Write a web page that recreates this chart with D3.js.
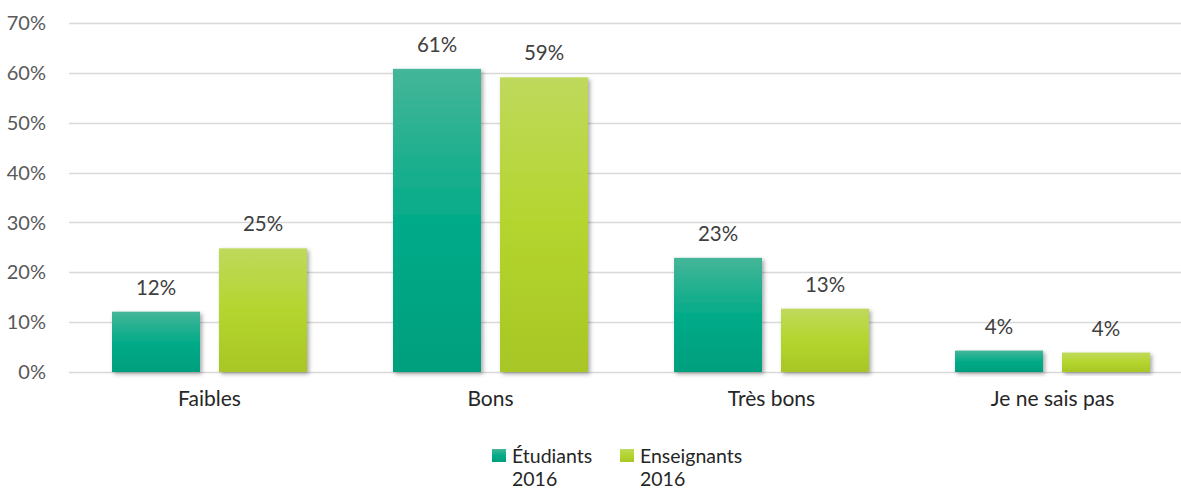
<!DOCTYPE html>
<html>
<head>
<meta charset="utf-8">
<script src="https://cdn.jsdelivr.net/npm/d3@7"></script>
<style>
  body { margin: 0; background: #fff; }
  svg { display: block; font-family: Lato, "Open Sans", sans-serif; }
</style>
</head>
<body>
<svg width="1181" height="491"></svg>
<script>
const categories = ["Faibles", "Bons", "Très bons", "Je ne sais pas"];
const seriesNames = ["Étudiants 2016", "Enseignants 2016"];
const etudiants = [12.1, 60.8, 22.9, 4.3];
const enseignants = [24.8, 59.1, 12.7, 3.9];
const valueLabels = [["12%", "61%", "23%", "4%"], ["25%", "59%", "13%", "4%"]];
const yTicks = [0, 10, 20, 30, 40, 50, 60, 70];

const svg = d3.select("svg");
const svgWidth = +svg.attr("width");

const gradients = [
  ["#44b698", "#04ab89", "#009f7d"],
  ["#bfd95c", "#b4d52e", "#a8c625"]
];

const defs = svg.append("defs");
gradients.forEach((stops, i) => {
  const g = defs.append("linearGradient")
    .attr("id", "grad" + i)
    .attr("x1", 0).attr("y1", 0).attr("x2", 0).attr("y2", 1);
  g.append("stop").attr("offset", "0%").attr("stop-color", stops[0]);
  g.append("stop").attr("offset", "50%").attr("stop-color", stops[1]);
  g.append("stop").attr("offset", "100%").attr("stop-color", stops[2]);
});
const shadow = defs.append("filter").attr("id", "shadow")
  .attr("x", "-20%").attr("y", "-20%").attr("width", "140%").attr("height", "140%");
shadow.append("feDropShadow")
  .attr("dx", 2).attr("dy", 2).attr("stdDeviation", 2.2)
  .attr("flood-color", "#000").attr("flood-opacity", 0.35);

const xScale = d3.scaleBand().domain(categories).range([69, 1193]).padding(0);
const xInner = d3.scaleBand().domain([0, 1])
  .range([0, xScale.bandwidth()])
  .paddingInner(0.1776).paddingOuter(0.402);
const yScale = d3.scaleLinear().domain([0, 70]).range([372, 23]);

// gridlines
svg.append("g")
  .selectAll("line")
  .data(yTicks)
  .enter()
  .append("line")
  .attr("x1", 69)
  .attr("x2", svgWidth)
  .attr("y1", (d) => Math.round(yScale(d)) + 0.5)
  .attr("y2", (d) => Math.round(yScale(d)) + 0.5)
  .attr("stroke", "#d9d9d9")
  .attr("stroke-width", 1.5);

// y tick labels
svg.append("g")
  .selectAll("text")
  .data(yTicks)
  .enter()
  .append("text")
  .attr("x", 46)
  .attr("y", (d) => yScale(d))
  .attr("dy", "0.36em")
  .attr("text-anchor", "end")
  .attr("font-size", 20)
  .attr("fill", "#595959")
  .text((d) => d + "%");

const series = [etudiants, enseignants];

series.forEach((values, si) => {
  const g = svg.append("g");
  g.selectAll("rect")
    .data(values)
    .enter()
    .append("rect")
    .attr("x", (d, i) => xScale(categories[i]) + xInner(si))
    .attr("y", (d) => yScale(d))
    .attr("width", xInner.bandwidth())
    .attr("height", (d) => yScale(0) - yScale(d))
    .attr("fill", "url(#grad" + si + ")")
    .attr("filter", "url(#shadow)");

  g.selectAll("text")
    .data(values)
    .enter()
    .append("text")
    .attr("x", (d, i) => xScale(categories[i]) + xInner(si) + xInner.bandwidth() / 2)
    .attr("y", (d) => yScale(d) - 17)
    .attr("text-anchor", "middle")
    .attr("font-size", 20.5)
    .attr("fill", "#404040")
    .text((d, i) => valueLabels[si][i]);
});

// category labels
svg.append("g")
  .selectAll("text")
  .data(categories)
  .enter()
  .append("text")
  .attr("x", (d) => xScale(d) + xScale.bandwidth() / 2)
  .attr("y", 406)
  .attr("text-anchor", "middle")
  .attr("font-size", 21)
  .attr("fill", "#262626")
  .text((d) => d);

// legend
const legendX = [492, 620];
const legendLines = [["Étudiants", "2016"], ["Enseignants", "2016"]];
seriesNames.forEach((name, i) => {
  const lg = svg.append("g").attr("transform", `translate(${legendX[i]},449)`);
  lg.append("rect")
    .attr("width", 14).attr("height", 13)
    .attr("fill", "url(#grad" + i + ")");
  lg.append("text")
    .attr("x", 20)
    .attr("y", 14)
    .attr("font-size", 19.5)
    .attr("fill", "#262626")
    .selectAll("tspan")
    .data(legendLines[i])
    .enter()
    .append("tspan")
    .attr("x", 20)
    .attr("dy", (d, j) => (j === 0 ? 0 : 23))
    .text((d) => d);
});
</script>
</body>
</html>
